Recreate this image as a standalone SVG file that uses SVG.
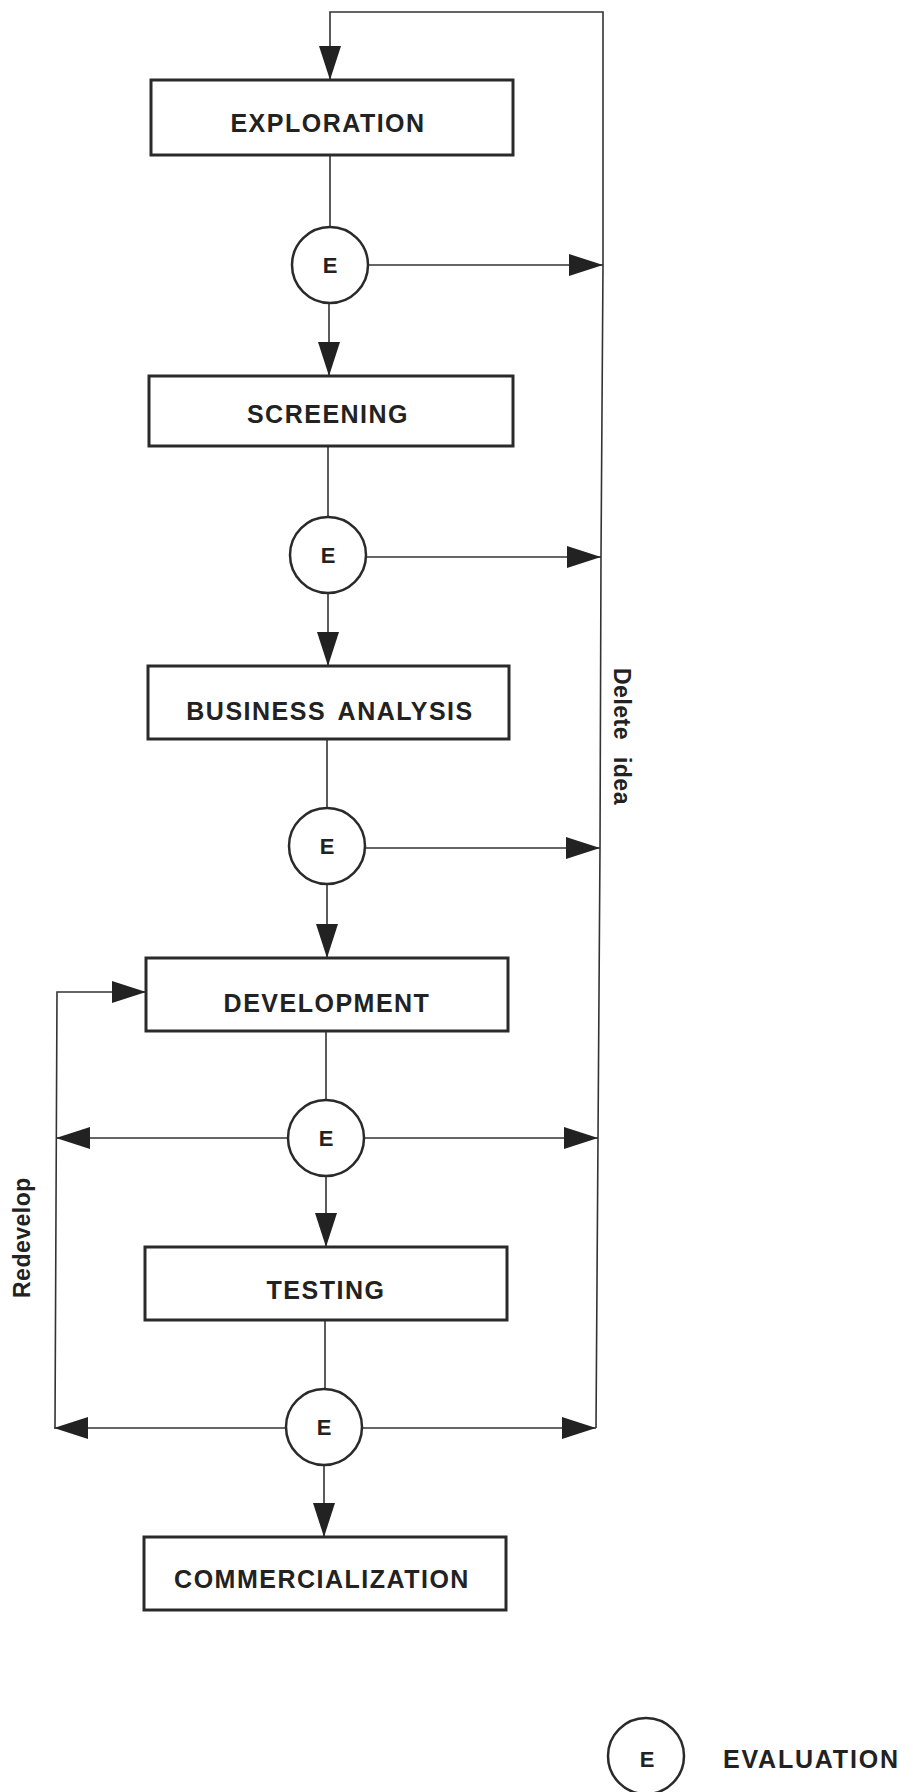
<svg xmlns="http://www.w3.org/2000/svg" width="913" height="1792" viewBox="0 0 913 1792">
<style>
.box{fill:#fff;stroke:#2a2a2a;stroke-width:3}
.ev{fill:#fff;stroke:#2a2a2a;stroke-width:2.5}
.ln{fill:none;stroke:#333;stroke-width:1.6}
.lbl{font-family:"Liberation Sans",Arial,sans-serif;font-weight:bold;font-size:25px;letter-spacing:1.5px;fill:#222;text-anchor:middle}
.e{font-family:"Liberation Sans",Arial,sans-serif;font-weight:bold;font-size:22px;fill:#222;text-anchor:middle}
.side{font-family:"Liberation Sans",Arial,sans-serif;font-weight:bold;font-size:23px;letter-spacing:0.5px;fill:#222}
</style>
<defs>
<marker id="ah" viewBox="0 0 34 22" refX="34" refY="11" markerWidth="34" markerHeight="22" markerUnits="userSpaceOnUse" orient="auto">
<path d="M0,0 L34,11 L0,22 Z" fill="#222"/>
</marker>
</defs>
<rect width="913" height="1792" fill="#fff"/>
<g id="connectors">
<path class="ln" d="M596,1428 L598,1138 L600,848 L601,557 L603,265 L603,12 L330,12 L330,80" marker-end="url(#ah)"/>
<line class="ln" x1="330" y1="155" x2="330" y2="227"/>
<line class="ln" x1="329" y1="303" x2="329" y2="376" marker-end="url(#ah)"/>
<line class="ln" x1="328" y1="446" x2="328" y2="517"/>
<line class="ln" x1="328" y1="593" x2="328" y2="666" marker-end="url(#ah)"/>
<line class="ln" x1="327" y1="739" x2="327" y2="808"/>
<line class="ln" x1="327" y1="884" x2="327" y2="958" marker-end="url(#ah)"/>
<line class="ln" x1="326" y1="1031" x2="326" y2="1100"/>
<line class="ln" x1="326" y1="1176" x2="326" y2="1247" marker-end="url(#ah)"/>
<line class="ln" x1="325" y1="1320" x2="325" y2="1389"/>
<line class="ln" x1="324" y1="1465" x2="324" y2="1537" marker-end="url(#ah)"/>
<line class="ln" x1="368" y1="265" x2="603" y2="265" marker-end="url(#ah)"/>
<line class="ln" x1="366" y1="557" x2="601" y2="557" marker-end="url(#ah)"/>
<line class="ln" x1="365" y1="848" x2="600" y2="848" marker-end="url(#ah)"/>
<line class="ln" x1="364" y1="1138" x2="598" y2="1138" marker-end="url(#ah)"/>
<line class="ln" x1="362" y1="1428" x2="596" y2="1428" marker-end="url(#ah)"/>
<line class="ln" x1="288" y1="1138" x2="56" y2="1138" marker-end="url(#ah)"/>
<line class="ln" x1="286" y1="1428" x2="54" y2="1428" marker-end="url(#ah)"/>
<path class="ln" d="M55,1428 L57,992 L146,992" marker-end="url(#ah)"/>
</g>
<g id="exploration"><rect class="box" x="151" y="80" width="362" height="75"/><text class="lbl" x="328" y="132">EXPLORATION</text></g>
<g id="screening"><rect class="box" x="149" y="376" width="364" height="70"/><text class="lbl" x="328" y="423">SCREENING</text></g>
<g id="business-analysis"><rect class="box" x="148" y="666" width="361" height="73"/><text class="lbl" x="330" y="720" word-spacing="4">BUSINESS ANALYSIS</text></g>
<g id="development"><rect class="box" x="146" y="958" width="362" height="73"/><text class="lbl" x="327" y="1012">DEVELOPMENT</text></g>
<g id="testing"><rect class="box" x="145" y="1247" width="362" height="73"/><text class="lbl" x="326" y="1299">TESTING</text></g>
<g id="commercialization"><rect class="box" x="144" y="1537" width="362" height="73"/><text class="lbl" x="322" y="1588">COMMERCIALIZATION</text></g>
<g id="eval1"><circle class="ev" cx="330" cy="265" r="38"/><text class="e" x="330" y="273">E</text></g>
<g id="eval2"><circle class="ev" cx="328" cy="555" r="38"/><text class="e" x="328" y="563">E</text></g>
<g id="eval3"><circle class="ev" cx="327" cy="846" r="38"/><text class="e" x="327" y="854">E</text></g>
<g id="eval4"><circle class="ev" cx="326" cy="1138" r="38"/><text class="e" x="326" y="1146">E</text></g>
<g id="eval5"><circle class="ev" cx="324" cy="1427" r="38"/><text class="e" x="324" y="1435">E</text></g>
<g id="labels">
<text class="side" transform="translate(614,668) rotate(90)" word-spacing="10">Delete idea</text>
<text class="side" transform="translate(30,1298) rotate(-90)">Redevelop</text>
</g>
<g id="legend">
<circle class="ev" cx="646" cy="1756" r="38"/>
<text class="e" x="647" y="1767">E</text>
<text class="lbl" x="723" y="1768" style="text-anchor:start;letter-spacing:1.8px">EVALUATION</text>
</g>
</svg>
